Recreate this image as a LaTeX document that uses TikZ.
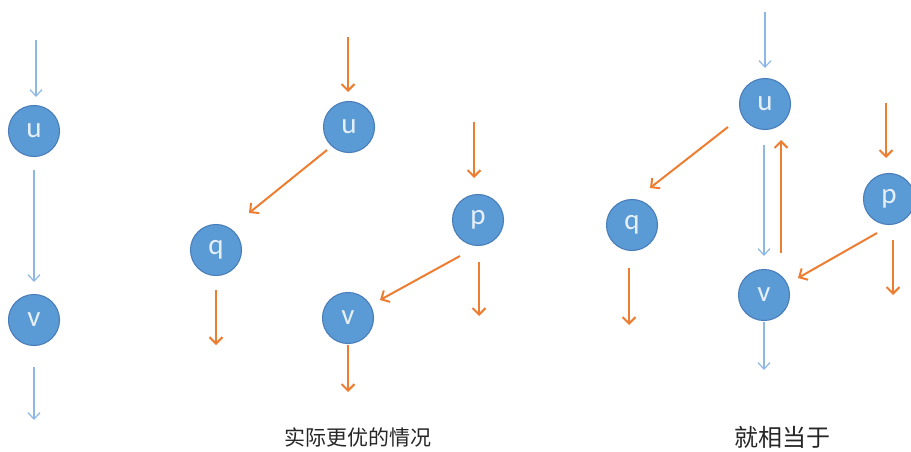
\documentclass[tikz,border=0pt]{standalone}
\usepackage{fontspec}
\setmainfont{Carlito}
\newfontfamily\cjk{Noto Sans CJK SC}
\usetikzlibrary{arrows.meta,calc}
\definecolor{nodefill}{HTML}{5B9BD5}
\definecolor{nodeline}{HTML}{4A7EBB}
\definecolor{orangeline}{HTML}{ED7D31}
\definecolor{blueline}{HTML}{8DB8E6}
\begin{document}
\begin{tikzpicture}[x=1pt,y=-1pt,
  vert/.style={circle,fill=nodefill,draw=nodeline,line width=1.1pt,minimum size=51pt,inner sep=0pt,text=white!85!nodefill,font=\fontsize{29}{29}\selectfont},
  oarr/.style={draw=orangeline,line width=2pt,-{Straight Barb[length=6.5pt,width=13pt]}},
  barr/.style={draw=blueline,line width=1.2pt,-{Straight Barb[length=6.5pt,width=12pt]}},
  captext/.style={font=\cjk\fontsize{21}{21}\selectfont,text=black!85}
]
\useasboundingbox (0,0) rectangle (911,452);

% ---- left: plain path ----
\node[vert] (lu) at (34,131) {u};
\node[vert] (lv) at (34,320) {v};
\coordinate (lin) at (36,40);
\coordinate (lout) at (34,420);
\draw[barr] (lin) -- ($(lu)+(2,-34)$);
\draw[barr] ($(lu)+(0,39)$) -- ($(lv)+(0,-38)$);
\draw[barr] ($(lv)+(0,47)$) -- (lout);

% ---- middle: actual better case ----
\node[vert] (mu) at (349,127) {u};
\node[vert] (mq) at (216,250) {q};
\node[vert] (mp) at (478,220) {p};
\node[vert] (mv) at (348,318) {v};
\coordinate (muin) at (348,37);
\coordinate (mpin) at (474,122);
\coordinate (mqout) at (216,345);
\coordinate (mpout) at (479,316);
\coordinate (mvout) at (348,392);
\draw[oarr] (muin) -- ($(mu)+(-1,-35)$);
\draw[oarr] ($(mu)+(-22,23)$) -- ($(mq)+(33,-37)$);
\draw[oarr] ($(mq)+(0,40)$) -- (mqout);
\draw[oarr] (mpin) -- ($(mp)+(-4,-42)$);
\draw[oarr] ($(mp)+(-18,36)$) -- ($(mv)+(32,-18)$);
\draw[oarr] ($(mp)+(1,42)$) -- (mpout);
\draw[oarr] ($(mv)+(0,27)$) -- (mvout);
\node[captext] (cap1) at (358,437) {实际更优的情况};

% ---- right: equivalent ----
\node[vert] (ru) at (765,104) {u};
\node[vert] (rq) at (632,225) {q};
\node[vert] (rv) at (764,295) {v};
\node[vert] (rp) at (889,199) {p};
\coordinate (ruin) at (765,12);
\coordinate (rpin) at (886,103);
\coordinate (rqout) at (629,325);
\coordinate (rpout) at (893,295);
\coordinate (rvout) at (764,370);
\draw[barr] (ruin) -- ($(ru)+(0,-36)$);
\draw[oarr] ($(ru)+(-37,23)$) -- ($(rq)+(18,-37)$);
\draw[oarr] ($(rq)+(-3,43)$) -- (rqout);
\draw[barr] ($(ru)+(-1,41)$) -- ($(rv)+(0,-39)$);
\draw[oarr] ($(rv)+(17,-42)$) -- ($(ru)+(16,36)$);
\draw[barr] ($(rv)+(0,27)$) -- (rvout);
\draw[oarr] (rpin) -- ($(rp)+(-3,-41)$);
\draw[oarr] ($(rp)+(-12,34)$) -- ($(rv)+(34,-17)$);
\draw[oarr] ($(rp)+(4,41)$) -- (rpout);
\node[captext] (cap2) at (782,437) {\fontsize{24}{24}\selectfont 就相当于};
\end{tikzpicture}
\end{document}
